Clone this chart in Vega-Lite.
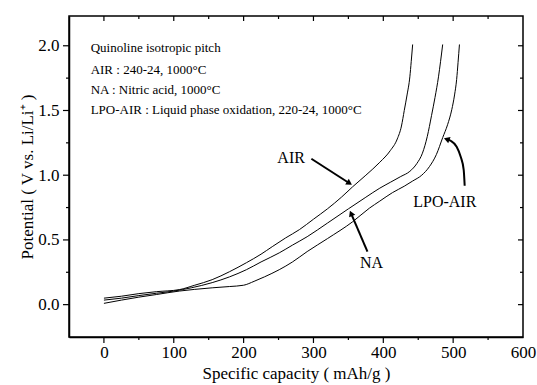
{
  "$schema": "https://vega.github.io/schema/vega-lite/v6.json",
  "width": 454,
  "height": 321,
  "autosize": "none",
  "padding": {"left": 69, "top": 16, "right": 14, "bottom": 48},
  "background": "white",
  "config": {
    "view": {"stroke": "black", "strokeWidth": 1.5},
    "font": "Liberation Serif",
    "axis": {
      "grid": false,
      "ticks": false,
      "domainColor": "black",
      "domainWidth": 1.5,
      "labelColor": "black",
      "titleColor": "black",
      "labelFont": "Liberation Serif",
      "titleFont": "Liberation Serif",
      "titleFontWeight": "normal",
      "labelFontSize": 17,
      "titleFontSize": 17
    }
  },
  "resolve": {"axis": {"x": "independent", "y": "independent"}},
  "datasets": {
    "curves": [
      {"sample": "AIR", "capacity": 0, "potential": 0.05},
      {"sample": "AIR", "capacity": 25, "potential": 0.065},
      {"sample": "AIR", "capacity": 50, "potential": 0.085},
      {"sample": "AIR", "capacity": 75, "potential": 0.1},
      {"sample": "AIR", "capacity": 108, "potential": 0.116},
      {"sample": "AIR", "capacity": 130, "potential": 0.15},
      {"sample": "AIR", "capacity": 155, "potential": 0.193},
      {"sample": "AIR", "capacity": 180, "potential": 0.255},
      {"sample": "AIR", "capacity": 204, "potential": 0.324},
      {"sample": "AIR", "capacity": 225, "potential": 0.39},
      {"sample": "AIR", "capacity": 241, "potential": 0.448},
      {"sample": "AIR", "capacity": 260, "potential": 0.515},
      {"sample": "AIR", "capacity": 280, "potential": 0.58},
      {"sample": "AIR", "capacity": 300, "potential": 0.66},
      {"sample": "AIR", "capacity": 320, "potential": 0.74},
      {"sample": "AIR", "capacity": 340, "potential": 0.83},
      {"sample": "AIR", "capacity": 356, "potential": 0.91},
      {"sample": "AIR", "capacity": 375, "potential": 1.0},
      {"sample": "AIR", "capacity": 395, "potential": 1.1},
      {"sample": "AIR", "capacity": 410, "potential": 1.19},
      {"sample": "AIR", "capacity": 420, "potential": 1.28},
      {"sample": "AIR", "capacity": 426, "potential": 1.38},
      {"sample": "AIR", "capacity": 430, "potential": 1.5},
      {"sample": "AIR", "capacity": 434, "potential": 1.62},
      {"sample": "AIR", "capacity": 438, "potential": 1.76},
      {"sample": "AIR", "capacity": 440, "potential": 1.88},
      {"sample": "AIR", "capacity": 442, "potential": 2.01},
      {"sample": "NA", "capacity": 0, "potential": 0.035},
      {"sample": "NA", "capacity": 25, "potential": 0.05},
      {"sample": "NA", "capacity": 50, "potential": 0.07},
      {"sample": "NA", "capacity": 75, "potential": 0.088},
      {"sample": "NA", "capacity": 100, "potential": 0.105},
      {"sample": "NA", "capacity": 125, "potential": 0.13},
      {"sample": "NA", "capacity": 155, "potential": 0.17},
      {"sample": "NA", "capacity": 180, "potential": 0.215},
      {"sample": "NA", "capacity": 204, "potential": 0.27},
      {"sample": "NA", "capacity": 225, "potential": 0.33},
      {"sample": "NA", "capacity": 251, "potential": 0.4},
      {"sample": "NA", "capacity": 270, "potential": 0.46},
      {"sample": "NA", "capacity": 291, "potential": 0.525},
      {"sample": "NA", "capacity": 320, "potential": 0.63},
      {"sample": "NA", "capacity": 350, "potential": 0.74},
      {"sample": "NA", "capacity": 375, "potential": 0.83},
      {"sample": "NA", "capacity": 395, "potential": 0.9},
      {"sample": "NA", "capacity": 410, "potential": 0.945},
      {"sample": "NA", "capacity": 425, "potential": 0.99},
      {"sample": "NA", "capacity": 438, "potential": 1.03},
      {"sample": "NA", "capacity": 448, "potential": 1.09},
      {"sample": "NA", "capacity": 456, "potential": 1.17},
      {"sample": "NA", "capacity": 463, "potential": 1.3},
      {"sample": "NA", "capacity": 469, "potential": 1.46},
      {"sample": "NA", "capacity": 474, "potential": 1.6},
      {"sample": "NA", "capacity": 479, "potential": 1.76},
      {"sample": "NA", "capacity": 482, "potential": 1.88},
      {"sample": "NA", "capacity": 485, "potential": 2.01},
      {"sample": "LPO-AIR", "capacity": 0, "potential": 0.01},
      {"sample": "LPO-AIR", "capacity": 25, "potential": 0.035},
      {"sample": "LPO-AIR", "capacity": 50, "potential": 0.058},
      {"sample": "LPO-AIR", "capacity": 75, "potential": 0.078},
      {"sample": "LPO-AIR", "capacity": 108, "potential": 0.105},
      {"sample": "LPO-AIR", "capacity": 130, "potential": 0.118},
      {"sample": "LPO-AIR", "capacity": 155, "potential": 0.13},
      {"sample": "LPO-AIR", "capacity": 180, "potential": 0.14},
      {"sample": "LPO-AIR", "capacity": 200, "potential": 0.15},
      {"sample": "LPO-AIR", "capacity": 215, "potential": 0.18},
      {"sample": "LPO-AIR", "capacity": 230, "potential": 0.215},
      {"sample": "LPO-AIR", "capacity": 251, "potential": 0.27},
      {"sample": "LPO-AIR", "capacity": 270, "potential": 0.33},
      {"sample": "LPO-AIR", "capacity": 291, "potential": 0.41},
      {"sample": "LPO-AIR", "capacity": 320, "potential": 0.51},
      {"sample": "LPO-AIR", "capacity": 356, "potential": 0.64},
      {"sample": "LPO-AIR", "capacity": 380, "potential": 0.745},
      {"sample": "LPO-AIR", "capacity": 395, "potential": 0.8},
      {"sample": "LPO-AIR", "capacity": 413, "potential": 0.865},
      {"sample": "LPO-AIR", "capacity": 430, "potential": 0.915},
      {"sample": "LPO-AIR", "capacity": 442, "potential": 0.955},
      {"sample": "LPO-AIR", "capacity": 455, "potential": 1.0},
      {"sample": "LPO-AIR", "capacity": 466, "potential": 1.066},
      {"sample": "LPO-AIR", "capacity": 476, "potential": 1.16},
      {"sample": "LPO-AIR", "capacity": 485, "potential": 1.29},
      {"sample": "LPO-AIR", "capacity": 492, "potential": 1.39},
      {"sample": "LPO-AIR", "capacity": 498, "potential": 1.506},
      {"sample": "LPO-AIR", "capacity": 502, "potential": 1.62},
      {"sample": "LPO-AIR", "capacity": 505, "potential": 1.74},
      {"sample": "LPO-AIR", "capacity": 507, "potential": 1.87},
      {"sample": "LPO-AIR", "capacity": 509, "potential": 2.01}
    ],
    "xticks": [
      {"value": 0, "kind": "major", "side": "bottom", "edge": -0.25},
      {"value": 50, "kind": "minor", "side": "bottom", "edge": -0.25},
      {"value": 100, "kind": "major", "side": "bottom", "edge": -0.25},
      {"value": 150, "kind": "minor", "side": "bottom", "edge": -0.25},
      {"value": 200, "kind": "major", "side": "bottom", "edge": -0.25},
      {"value": 250, "kind": "minor", "side": "bottom", "edge": -0.25},
      {"value": 300, "kind": "major", "side": "bottom", "edge": -0.25},
      {"value": 350, "kind": "minor", "side": "bottom", "edge": -0.25},
      {"value": 400, "kind": "major", "side": "bottom", "edge": -0.25},
      {"value": 450, "kind": "minor", "side": "bottom", "edge": -0.25},
      {"value": 500, "kind": "major", "side": "bottom", "edge": -0.25},
      {"value": 550, "kind": "minor", "side": "bottom", "edge": -0.25},
      {"value": 0, "kind": "major", "side": "top", "edge": 2.23},
      {"value": 50, "kind": "minor", "side": "top", "edge": 2.23},
      {"value": 100, "kind": "major", "side": "top", "edge": 2.23},
      {"value": 150, "kind": "minor", "side": "top", "edge": 2.23},
      {"value": 200, "kind": "major", "side": "top", "edge": 2.23},
      {"value": 250, "kind": "minor", "side": "top", "edge": 2.23},
      {"value": 300, "kind": "major", "side": "top", "edge": 2.23},
      {"value": 350, "kind": "minor", "side": "top", "edge": 2.23},
      {"value": 400, "kind": "major", "side": "top", "edge": 2.23},
      {"value": 450, "kind": "minor", "side": "top", "edge": 2.23},
      {"value": 500, "kind": "major", "side": "top", "edge": 2.23},
      {"value": 550, "kind": "minor", "side": "top", "edge": 2.23}
    ],
    "yticks": [
      {"value": 0, "kind": "major", "side": "left", "edge": -50},
      {"value": 0.25, "kind": "minor", "side": "left", "edge": -50},
      {"value": 0.5, "kind": "major", "side": "left", "edge": -50},
      {"value": 0.75, "kind": "minor", "side": "left", "edge": -50},
      {"value": 1.0, "kind": "major", "side": "left", "edge": -50},
      {"value": 1.25, "kind": "minor", "side": "left", "edge": -50},
      {"value": 1.5, "kind": "major", "side": "left", "edge": -50},
      {"value": 1.75, "kind": "minor", "side": "left", "edge": -50},
      {"value": 2.0, "kind": "major", "side": "left", "edge": -50},
      {"value": 0, "kind": "major", "side": "right", "edge": 600},
      {"value": 0.25, "kind": "minor", "side": "right", "edge": 600},
      {"value": 0.5, "kind": "major", "side": "right", "edge": 600},
      {"value": 0.75, "kind": "minor", "side": "right", "edge": 600},
      {"value": 1.0, "kind": "major", "side": "right", "edge": 600},
      {"value": 1.25, "kind": "minor", "side": "right", "edge": 600},
      {"value": 1.5, "kind": "major", "side": "right", "edge": 600},
      {"value": 1.75, "kind": "minor", "side": "right", "edge": 600},
      {"value": 2.0, "kind": "major", "side": "right", "edge": 600}
    ],
    "notes": [
      {"x": -19, "y": 1.985, "text": "Quinoline isotropic pitch"},
      {"x": -19, "y": 1.815, "text": "AIR : 240-24, 1000°C"},
      {"x": -19, "y": 1.66, "text": "NA : Nitric acid, 1000°C"},
      {"x": -19, "y": 1.5, "text": "LPO-AIR : Liquid phase oxidation, 220-24, 1000°C"}
    ],
    "labels": [
      {"x": 268, "y": 1.135, "text": "AIR"},
      {"x": 383, "y": 0.324, "text": "NA"},
      {"x": 488, "y": 0.79, "text": "LPO-AIR"}
    ],
    "shafts": [
      {"arrow": "AIR", "i": 0, "x": 297, "y": 1.127},
      {"arrow": "AIR", "i": 1, "x": 351.5, "y": 0.938},
      {"arrow": "NA", "i": 0, "x": 377.3, "y": 0.409},
      {"arrow": "NA", "i": 1, "x": 353.8, "y": 0.705},
      {"arrow": "LPO-AIR", "i": 0, "x": 516.5, "y": 0.919},
      {"arrow": "LPO-AIR", "i": 1, "x": 515.1, "y": 1.042},
      {"arrow": "LPO-AIR", "i": 2, "x": 510.8, "y": 1.143},
      {"arrow": "LPO-AIR", "i": 3, "x": 505.0, "y": 1.22},
      {"arrow": "LPO-AIR", "i": 4, "x": 496.4, "y": 1.266},
      {"arrow": "LPO-AIR", "i": 5, "x": 490.7, "y": 1.278}
    ],
    "heads": [
      {"arrow": "AIR", "x": 351.5, "y": 0.938, "angle": 123},
      {"arrow": "NA", "x": 353.8, "y": 0.705, "angle": 337},
      {"arrow": "LPO-AIR", "x": 490.7, "y": 1.278, "angle": 290}
    ]
  },
  "layer": [
    {
      "data": {"name": "curves"},
      "mark": {"type": "line", "color": "black", "strokeWidth": 1, "interpolate": "monotone"},
      "encoding": {
        "x": {
          "field": "capacity", "type": "quantitative",
          "scale": {"domain": [-50, 600], "nice": false, "zero": false},
          "axis": {
            "orient": "bottom",
            "title": "Specific capacity ( mAh/g )",
            "values": [0, 100, 200, 300, 400, 500, 600],
            "ticks": false,
            "labelPadding": 7,
            "titlePadding": 5,
            "labelFlush": false,
            "labelOverlap": false
          }
        },
        "y": {
          "field": "potential", "type": "quantitative",
          "scale": {"domain": [-0.25, 2.23], "nice": false, "zero": false},
          "axis": {
            "orient": "left",
            "title": "Potential ( V vs. Li/Li⁺ )",
            "values": [0, 0.5, 1, 1.5, 2],
            "format": ".1f",
            "ticks": false,
            "labelPadding": 10,
            "titlePadding": 1,
            "labelFlush": false,
            "labelOverlap": false
          }
        },
        "detail": {"field": "sample"}
      }
    },
    {
      "data": {"name": "xticks"},
      "transform": [{"filter": "datum.kind === 'major' && datum.side === 'bottom'"}],
      "mark": {"type": "rule", "color": "black", "strokeWidth": 1.2, "y2Offset": 6},
      "encoding": {
        "x": {"field": "value", "type": "quantitative", "axis": null},
        "y": {"field": "edge", "type": "quantitative", "axis": null},
        "y2": {"field": "edge"}
      }
    },
    {
      "data": {"name": "xticks"},
      "transform": [{"filter": "datum.kind === 'minor' && datum.side === 'bottom'"}],
      "mark": {"type": "rule", "color": "black", "strokeWidth": 1.2, "y2Offset": 3},
      "encoding": {
        "x": {"field": "value", "type": "quantitative", "axis": null},
        "y": {"field": "edge", "type": "quantitative", "axis": null},
        "y2": {"field": "edge"}
      }
    },
    {
      "data": {"name": "xticks"},
      "transform": [{"filter": "datum.kind === 'major' && datum.side === 'top'"}],
      "mark": {"type": "rule", "color": "black", "strokeWidth": 1.2, "y2Offset": 5},
      "encoding": {
        "x": {"field": "value", "type": "quantitative", "axis": null},
        "y": {"field": "edge", "type": "quantitative", "axis": null},
        "y2": {"field": "edge"}
      }
    },
    {
      "data": {"name": "xticks"},
      "transform": [{"filter": "datum.kind === 'minor' && datum.side === 'top'"}],
      "mark": {"type": "rule", "color": "black", "strokeWidth": 1.2, "y2Offset": 3},
      "encoding": {
        "x": {"field": "value", "type": "quantitative", "axis": null},
        "y": {"field": "edge", "type": "quantitative", "axis": null},
        "y2": {"field": "edge"}
      }
    },
    {
      "data": {"name": "yticks"},
      "transform": [{"filter": "datum.kind === 'major' && datum.side === 'left'"}],
      "mark": {"type": "rule", "color": "black", "strokeWidth": 1.2, "x2Offset": -6},
      "encoding": {
        "y": {"field": "value", "type": "quantitative", "axis": null},
        "x": {"field": "edge", "type": "quantitative", "axis": null},
        "x2": {"field": "edge"}
      }
    },
    {
      "data": {"name": "yticks"},
      "transform": [{"filter": "datum.kind === 'minor' && datum.side === 'left'"}],
      "mark": {"type": "rule", "color": "black", "strokeWidth": 1.2, "x2Offset": -3},
      "encoding": {
        "y": {"field": "value", "type": "quantitative", "axis": null},
        "x": {"field": "edge", "type": "quantitative", "axis": null},
        "x2": {"field": "edge"}
      }
    },
    {
      "data": {"name": "yticks"},
      "transform": [{"filter": "datum.kind === 'major' && datum.side === 'right'"}],
      "mark": {"type": "rule", "color": "black", "strokeWidth": 1.2, "x2Offset": -5},
      "encoding": {
        "y": {"field": "value", "type": "quantitative", "axis": null},
        "x": {"field": "edge", "type": "quantitative", "axis": null},
        "x2": {"field": "edge"}
      }
    },
    {
      "data": {"name": "yticks"},
      "transform": [{"filter": "datum.kind === 'minor' && datum.side === 'right'"}],
      "mark": {"type": "rule", "color": "black", "strokeWidth": 1.2, "x2Offset": -3},
      "encoding": {
        "y": {"field": "value", "type": "quantitative", "axis": null},
        "x": {"field": "edge", "type": "quantitative", "axis": null},
        "x2": {"field": "edge"}
      }
    },
    {
      "data": {"name": "notes"},
      "mark": {"type": "text", "align": "left", "baseline": "middle", "fontSize": 13, "font": "Liberation Serif", "color": "black"},
      "encoding": {
        "x": {"field": "x", "type": "quantitative", "axis": null},
        "y": {"field": "y", "type": "quantitative", "axis": null},
        "text": {"field": "text"}
      }
    },
    {
      "data": {"name": "labels"},
      "mark": {"type": "text", "align": "center", "baseline": "middle", "fontSize": 16, "font": "Liberation Serif", "color": "black"},
      "encoding": {
        "x": {"field": "x", "type": "quantitative", "axis": null},
        "y": {"field": "y", "type": "quantitative", "axis": null},
        "text": {"field": "text"}
      }
    },
    {
      "data": {"name": "shafts"},
      "mark": {"type": "line", "color": "black", "strokeWidth": 2, "interpolate": "monotone"},
      "encoding": {
        "x": {"field": "x", "type": "quantitative", "axis": null},
        "y": {"field": "y", "type": "quantitative", "axis": null},
        "detail": {"field": "arrow"},
        "order": {"field": "i"}
      }
    },
    {
      "data": {"name": "heads"},
      "mark": {"type": "point", "shape": "triangle-up", "filled": true, "color": "black", "size": 45, "opacity": 1},
      "encoding": {
        "x": {"field": "x", "type": "quantitative", "axis": null},
        "y": {"field": "y", "type": "quantitative", "axis": null},
        "angle": {"field": "angle", "type": "quantitative", "scale": null}
      }
    }
  ]
}
